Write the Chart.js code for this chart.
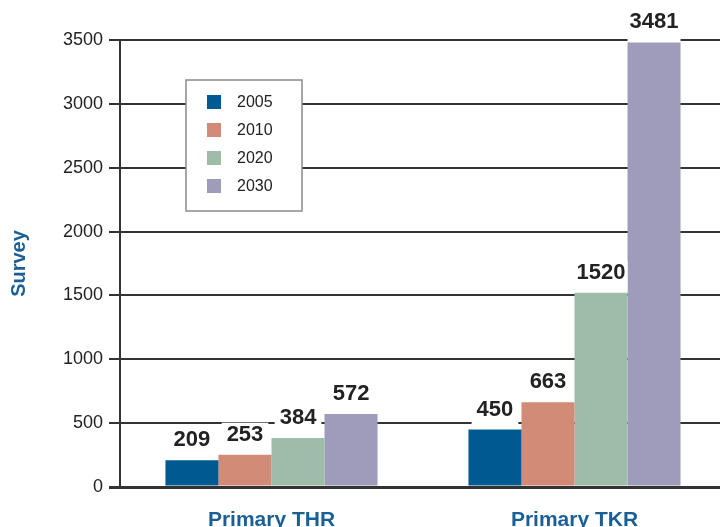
<!DOCTYPE html>
<html>
<head>
<meta charset="utf-8">
<script src="https://cdn.jsdelivr.net/npm/chart.js@4"></script>
<style>
  html, body { margin: 0; padding: 0; background: #fff; overflow: hidden; }
  #wrap { width: 720px; height: 527px; position: relative; overflow: hidden; }
</style>
</head>
<body>
<div id="wrap"><canvas id="surveyChart" width="726" height="527"></canvas></div>
<script>
// data
const categories = ['Primary THR', 'Primary TKR'];
const years = ['2005', '2010', '2020', '2030'];
const values2005 = [209, 450];
const values2010 = [253, 663];
const values2020 = [384, 1520];
const values2030 = [572, 3481];
const barColors = ['#005a92', '#d28b76', '#9fbca9', '#9e9bbb'];

const blueText = '#1b5f97';
const darkText = '#222222';
const lineColor = '#333333';

// white-backed value labels on top of each bar
const valueLabels = {
  id: 'valueLabels',
  afterDatasetsDraw(chart) {
    const ctx = chart.ctx;
    ctx.save();
    ctx.font = 'bold 22px "Liberation Sans", Arial, sans-serif';
    ctx.textAlign = 'center';
    ctx.textBaseline = 'middle';
    chart.data.datasets.forEach((ds, i) => {
      chart.getDatasetMeta(i).data.forEach((bar, j) => {
        const txt = String(ds.data[j]);
        const w = Math.min(ctx.measureText(txt).width + 10, bar.width);
        const cy = bar.y - 21;
        ctx.fillStyle = '#fff';
        ctx.fillRect(bar.x - w / 2, cy - 11, w, bar.y - (cy - 11) - 1);
        ctx.fillStyle = darkText;
        ctx.fillText(txt, bar.x, cy + 1);
      });
    });
    ctx.restore();
  }
};

// boxed legend inside the plot
const boxLegend = {
  id: 'boxLegend',
  afterDraw(chart) {
    const ctx = chart.ctx;
    ctx.save();
    ctx.fillStyle = '#fff';
    ctx.fillRect(186, 80, 116, 131);
    ctx.strokeStyle = '#8a8a8a';
    ctx.lineWidth = 1.5;
    ctx.strokeRect(186, 80, 116, 131);
    ctx.font = '16px "Liberation Sans", Arial, sans-serif';
    ctx.textAlign = 'left';
    ctx.textBaseline = 'middle';
    chart.data.datasets.forEach((ds, i) => {
      const cy = 102 + i * 28;
      ctx.fillStyle = ds.backgroundColor;
      ctx.fillRect(207, cy - 7, 14, 14);
      ctx.fillStyle = darkText;
      ctx.fillText(ds.label, 237, cy + 1);
    });
    ctx.restore();
  }
};

const allValues = [values2005, values2010, values2020, values2030];

new Chart(document.getElementById('surveyChart'), {
  type: 'bar',
  data: {
    labels: categories,
    datasets: years.map((y, i) => ({
      label: y,
      data: allValues[i],
      backgroundColor: barColors[i],
      borderWidth: 0,
      barPercentage: 1,
      categoryPercentage: 0.70
    }))
  },
  options: {
    responsive: false,
    animation: false,
    layout: { padding: { top: 40, left: 0, right: 0, bottom: 0 } },
    plugins: {
      legend: { display: false },
      tooltip: { enabled: false }
    },
    scales: {
      x: {
        grid: { display: false },
        border: { display: false },
        ticks: {
          color: blueText,
          font: { family: '"Liberation Sans", Arial, sans-serif', size: 21, weight: 'bold' },
          padding: 13
        },
        afterFit(scale) { scale.height = 40; }
      },
      y: {
        min: 0,
        max: 3500,
        ticks: {
          stepSize: 500,
          color: darkText,
          font: { family: '"Liberation Sans", Arial, sans-serif', size: 18 },
          padding: 6,
          callback: v => String(v)
        },
        grid: {
          color: lineColor,
          lineWidth: ctx => (ctx.tick && ctx.tick.value === 0 ? 3 : 2),
          drawTicks: true,
          tickLength: 11,
          tickColor: lineColor
        },
        border: { display: true, color: lineColor, width: 2 },
        title: {
          display: true,
          text: 'Survey',
          color: blueText,
          font: { family: '"Liberation Sans", Arial, sans-serif', size: 20, weight: 'bold' },
          padding: { top: 7, bottom: 0 }
        },
        afterFit(scale) { scale.width = 120; }
      }
    }
  },
  plugins: [valueLabels, boxLegend]
});
</script>
</body>
</html>
